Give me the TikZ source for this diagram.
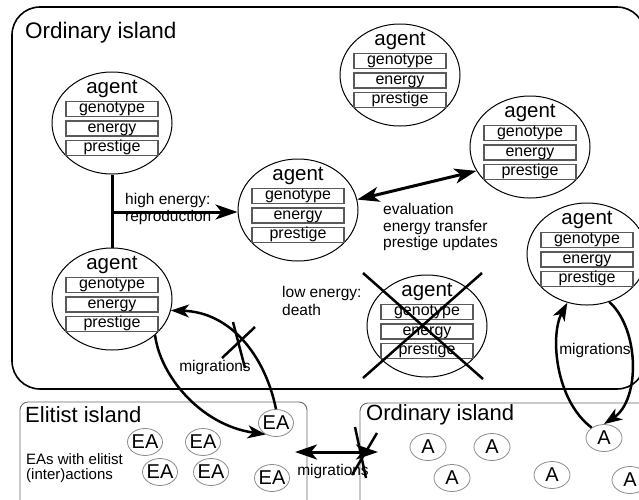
\documentclass[tikz,border=0pt]{standalone}
\usepackage{fontspec}
\setmainfont{Liberation Sans}
\usetikzlibrary{shapes.geometric,arrows.meta}
\tikzset{
  agentcirc/.style={ellipse, draw, line width=1pt, minimum width=120pt, minimum height=102pt, inner sep=0pt},
  agentlabel/.style={font=\fontsize{20.5}{20.5}\selectfont, inner sep=0pt},
  field/.style={draw=black!65, line width=1.1pt, minimum width=92pt, minimum height=15pt, inner sep=0pt,
    text height=11pt, text depth=3.5pt, font=\fontsize{16}{16}\selectfont},
  small/.style={font=\fontsize{15.5}{16.5}\selectfont, inner sep=0pt, align=left},
  title/.style={font=\fontsize{22.5}{22.5}\selectfont, inner sep=0pt, anchor=west},
  island/.style={draw=black!60, line width=0.9pt, rounded corners=8pt},
  eanode/.style={ellipse, draw=black!45, line width=0.8pt, minimum width=35pt, minimum height=27pt,
    inner sep=-5pt, font=\fontsize{20}{20}\selectfont},
  anode/.style={eanode, minimum width=36pt},
  bigtip/.tip={Stealth[length=22pt,width=15pt,inset=6pt]},
  migtip/.tip={Stealth[length=18pt,width=13pt,inset=5pt]},
  bigarrow/.style={line width=3pt, -bigtip},
  bigdouble/.style={line width=3pt, bigtip-bigtip},
  migarrow/.style={line width=2.5pt, -migtip},
  crossline/.style={line width=2.5pt},
}
\newcommand{\agentat}[3]{%
  \node[agentcirc] (#1) at (#2,#3+4) {};
  \node[agentlabel] (#1-t) at (#2,#3-30) {agent};
  \node[field] (#1-g) at (#2,#3-10) {genotype};
  \node[field] (#1-e) at (#2,#3+9.5) {energy};
  \node[field] (#1-p) at (#2,#3+29) {prestige};
}
\begin{document}
\begin{tikzpicture}[x=1pt,y=-1pt]
\useasboundingbox (0,0) rectangle (639,499);
\clip (0,0) rectangle (639,499);
\fill[white] (0,0) rectangle (639,499);

% islands
\draw[line width=1.6pt, rounded corners=28pt] (12,7) rectangle (645,389);
\node[title] (t1) at (25,33) {Ordinary island};
\draw[island] (20,402) rectangle (307,515);
\node[title, font=\fontsize{22}{22}\selectfont] (t2) at (25,415) {Elitist island};
\draw[island] (360,403) rectangle (660,515);
\node[title, font=\fontsize{22}{22}\selectfont] (t3) at (366,415) {Ordinary island};

% agents
\agentat{a1}{112}{119}
\agentat{a2}{298}{206}
\agentat{a3}{400}{71}
\agentat{a4}{530}{143}
\agentat{a5}{587}{250}
\agentat{a6}{112}{295}
\agentat{a7}{427}{322}

% dead agent
\draw[crossline] (363,273) -- (483,379);
\draw[crossline] (482,273) -- (363,378);

% reproduction
\draw[line width=3pt] (a1.south) -- (a6.north);
\coordinate (rep) at (112,212);
\draw[bigarrow] (rep) -- (rep -| a2.west);
\node[small, anchor=west, font=\fontsize{15.5}{17.5}\selectfont] (lrep) at (125,209) {high energy:\\reproduction};

% evaluation
\draw[bigdouble] (a2.10) -- (a4.204);
\node[small, anchor=west] (leval) at (383,227) {evaluation\\energy transfer\\prestige updates};

\node[small, anchor=west, font=\fontsize{15.5}{18}\selectfont] (ldeath) at (282,301) {low energy:\\death};

% EA nodes
\foreach \n/\x/\y in {1/276/423, 2/145/442, 3/203/442, 4/160/472, 5/211/472, 6/272/478}
  \node[eanode] (ea\n) at (\x,\y) {EA};
\node[small, anchor=west, font=\fontsize{15}{15}\selectfont] (lea) at (26,468) {EAs with elitist\\(inter)actions};

% A nodes
\foreach \n/\x/\y in {1/428/447, 2/492/447, 3/604/438, 4/452/478, 5/552/475, 6/630/480}
  \node[anode] (A\n) at (\x,\y) {A};

% migrations left
\draw[migarrow] (ea1.north) .. controls (265,355) and (230,312) .. (a6.-11);
\draw[migarrow] (a6.-40) .. controls (160,375) and (200,425) .. (ea1.228);
\draw[crossline] (233,322) -- (245,368);
\draw[crossline] (255,327) -- (222,358);
\node[small] (lmig1) at (215,367) {migrations};

% migrations between islands
\coordinate (ml) at (295,452);
\coordinate (mr) at (378,452);
\draw[bigdouble] (ml) -- (mr);
\draw[crossline] (355,427) -- (366,478);
\draw[crossline] (377,433) -- (352,475);
\node[small] (lmig2) at (333,471) {migrations};

% migrations right
\draw[migarrow] (A3.140) .. controls (555,400) and (550,335) .. (a5.248);
\draw[migarrow] (a5.-65) .. controls (640,330) and (640,400) .. (A3.north);
\node[small] (lmig3) at (595,350) {migrations};
\end{tikzpicture}
\end{document}
